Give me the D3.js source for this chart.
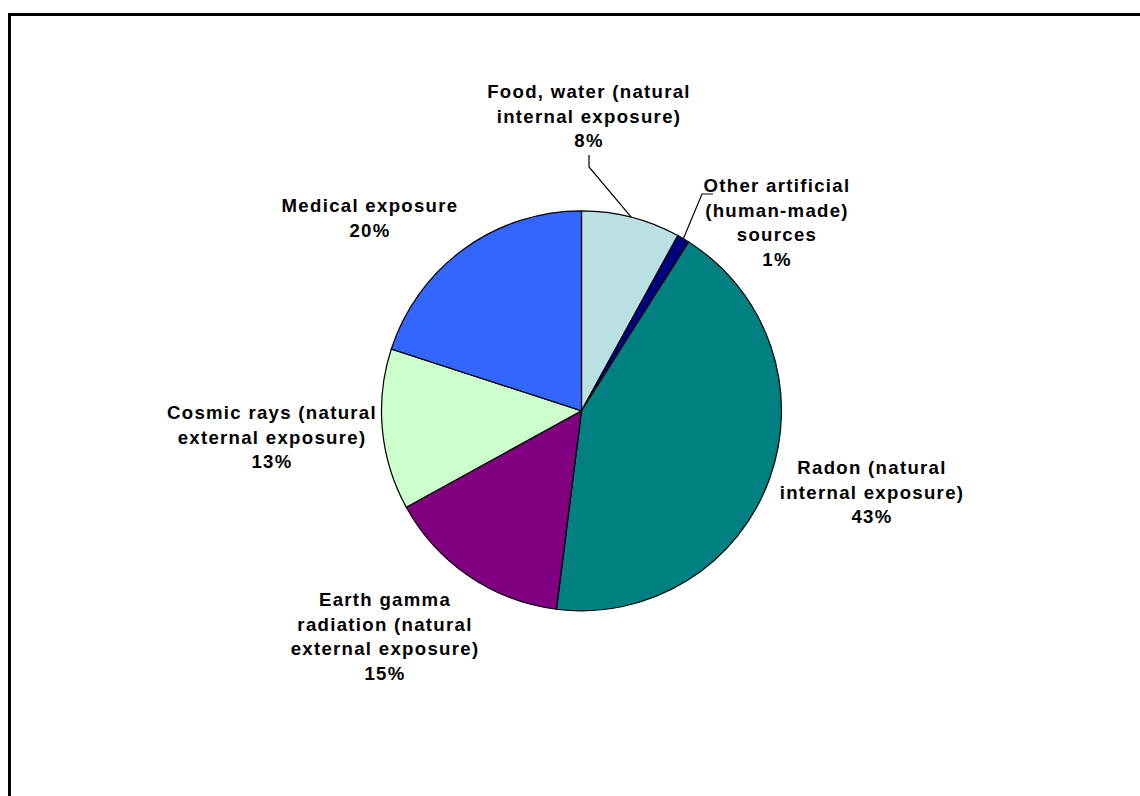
<!DOCTYPE html>
<html>
<head>
<meta charset="utf-8">
<script src="https://cdn.jsdelivr.net/npm/d3@7"></script>
<style>
  html, body { margin: 0; padding: 0; background: #fff; overflow: hidden; }
  text { font-family: Arial, "Liberation Sans", sans-serif; font-weight: bold; font-size: 18.6px; letter-spacing: 1.3px; fill: #000; }
</style>
</head>
<body>
<script>
document.addEventListener("DOMContentLoaded", function() {

    // slices clockwise from 12 o'clock
    const sources = ["Food, water (natural internal exposure)", "Other artificial (human-made) sources",
        "Radon (natural internal exposure)", "Earth gamma radiation (natural external exposure)",
        "Cosmic rays (natural external exposure)", "Medical exposure"];
    const shares = [8, 1, 43, 15, 13, 20];
    const labelLines = [
        ["Food, water (natural", "internal exposure)", "8%"],
        ["Other artificial", "(human-made)", "sources", "1%"],
        ["Radon (natural", "internal exposure)", "43%"],
        ["Earth gamma", "radiation (natural", "external exposure)", "15%"],
        ["Cosmic rays (natural", "external exposure)", "13%"],
        ["Medical exposure", "20%"]
    ];
    const colors = ["#BBE0E3", "#000080", "#008080", "#800080", "#CCFFCC", "#3366FF"];

    // label anchor (centre x, first baseline y), layout only
    const labelPos = [[589, 98], [777, 192], [872, 474], [385, 606], [272, 419], [370, 212]];
    const lineH = 24.5;

    const width = 1140;
    const height = 796;
    const cx = 581.5, cy = 410.8, radius = 200;

    const svg = d3.select("body").append("svg").attr("width", width).attr("height", height);

    svg.append("rect")
        .attr("x", 9.5).attr("y", 14.5)
        .attr("width", width + 20).attr("height", height + 20)
        .attr("fill", "none").attr("stroke", "#000").attr("stroke-width", 3);

    const pie = d3.pie().sort(null).value((d) => d);
    const arcs = pie(shares);
    const arc = d3.arc().innerRadius(0).outerRadius(radius);
    const edge = d3.arc().innerRadius(radius).outerRadius(radius);

    const g = svg.append("g").attr("transform", `translate(${cx},${cy})`);

    g.selectAll("path")
        .data(arcs)
        .enter()
        .append("path")
        .attr("d", arc)
        .attr("fill", (d, i) => colors[i])
        .attr("stroke", "#000")
        .attr("stroke-width", 1.2);

    // leader lines for the two small top slices
    const leaders = [
        { i: 0, pts: [[589, 155], [589, 167]] },
        { i: 1, pts: [[713, 194], [702, 194]] }
    ];
    leaders.forEach(function(l) {
        const c = edge.centroid(arcs[l.i]);
        const pts = l.pts.concat([[c[0] + cx, c[1] + cy]]);
        svg.append("polyline")
            .attr("points", pts.map((p) => p.join(",")).join(" "))
            .attr("fill", "none").attr("stroke", "#000").attr("stroke-width", 1.2);
    });

    labelLines.forEach(function(lines, i) {
        const t = svg.append("text")
            .attr("text-anchor", "middle")
            .attr("x", labelPos[i][0])
            .attr("y", labelPos[i][1]);
        lines.forEach(function(s, k) {
            t.append("tspan").attr("x", labelPos[i][0]).attr("y", labelPos[i][1] + k * lineH).text(s);
        });
    });
});
</script>
</body>
</html>
